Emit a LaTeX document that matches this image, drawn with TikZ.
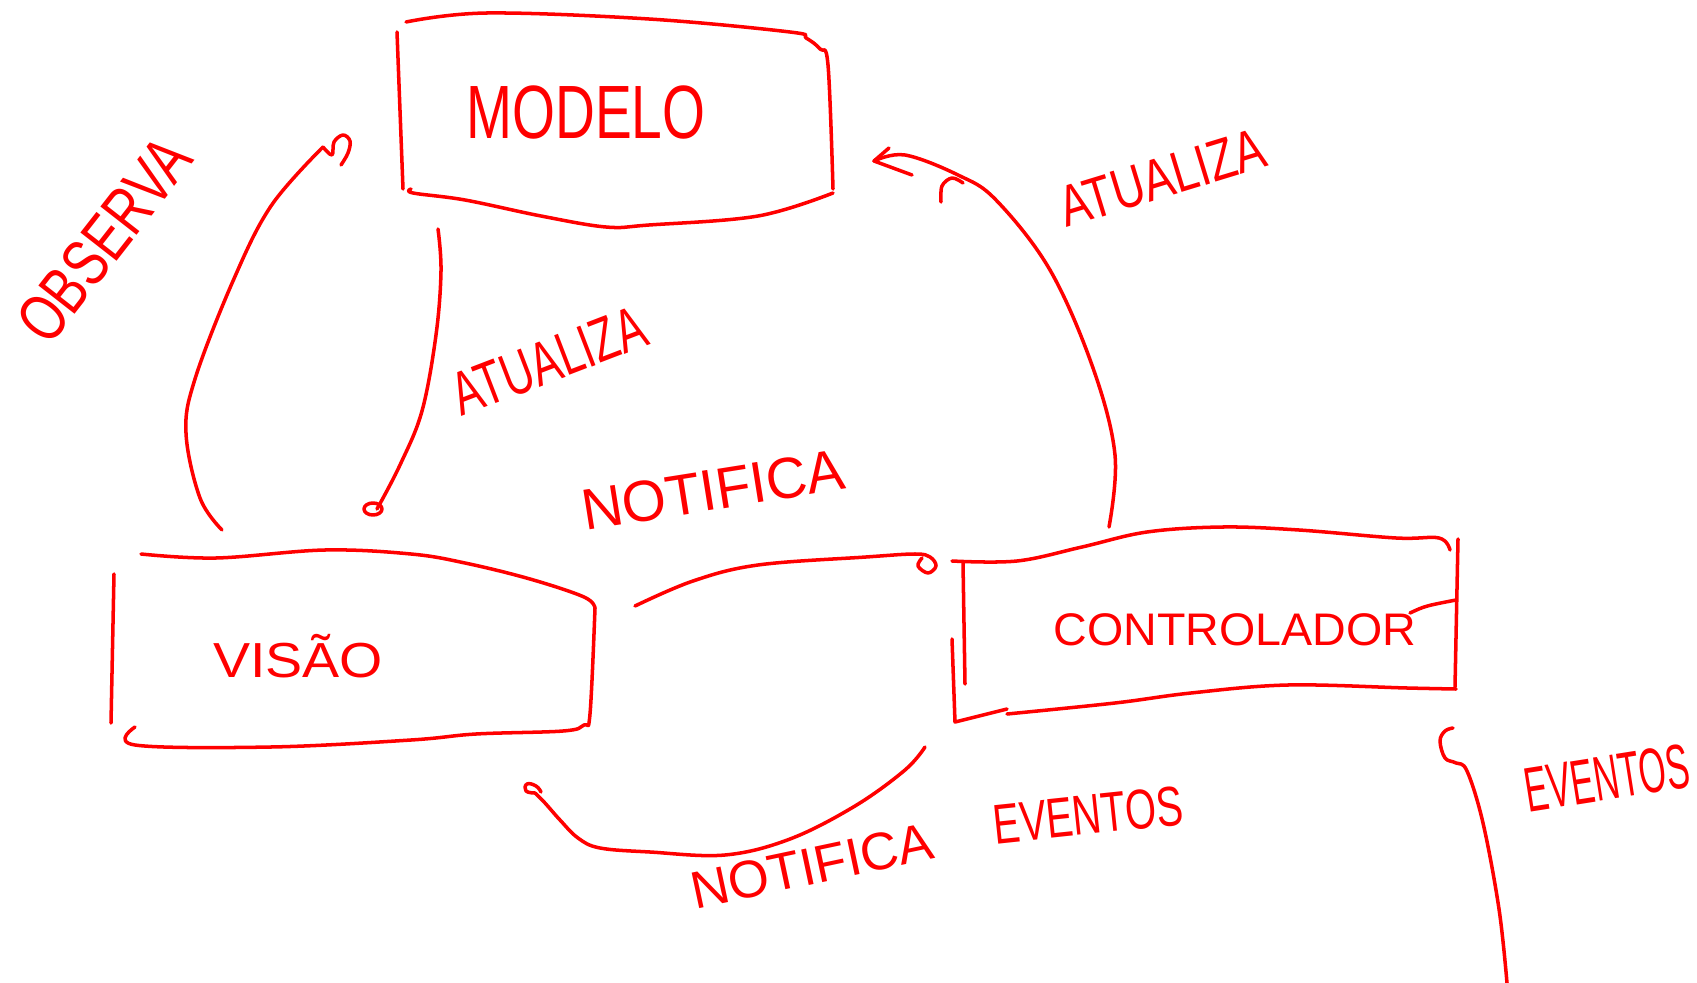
\documentclass[tikz,border=0pt]{standalone}
\usepackage{fontspec}
\usepackage{graphicx}
\setmainfont{Liberation Sans}
\begin{document}
\begin{tikzpicture}[x=0.02cm,y=-0.02cm,
  ink/.style={draw=red, line width=2pt, line cap=round, line join=round},
  lbl/.style={text=red, inner sep=0pt},
  bigfont/.style={font=\fontsize{#1}{#1}\selectfont}]
\useasboundingbox (0,0) rectangle (1697,983);

% ---------- MODELO ----------
\draw[ink] (397,32) -- (403,189);
\draw[ink] plot[smooth, tension=0.6] coordinates {(406,22) (487,13) (649,19) (790,32) (806,38) (820,49) (828,65) (833,189)};
\draw[ink] plot[smooth, tension=0.6] coordinates {(833,193) (758,216) (649,225) (606,227) (541,216) (465,200) (413,193) (411,189)};
\node[lbl, bigfont=43] (modelo) at (586,112) {\scalebox{0.73}[1]{MODELO}};

% ---------- VISAO ----------
\draw[ink] (114,574) -- (111,723);
\draw[ink] plot[smooth, tension=0.6] coordinates {(141,554) (216,558) (325,550) (411,554) (465,563) (530,579) (584,597) (595,608)};
\draw[ink] plot[smooth, tension=0.6] coordinates {(595,608) (590,714) (584,725) (563,731) (476,734) (411,740) (271,747) (135,745) (135,727)};
\node[lbl, bigfont=28, anchor=base] (visao) at (298,677) {\scalebox{1.13}[1]{VISÃO}};

% ---------- CONTROLADOR ----------
\draw[ink] plot[smooth, tension=0.6] coordinates {(952,561) (1017,561) (1082,547) (1147,532) (1223,527) (1299,530) (1396,538) (1439,538) (1450,550)};
\draw[ink] (1458,539) -- (1455,687);
\draw[ink] plot[smooth, tension=0.6] coordinates {(1456,689) (1407,688) (1288,685) (1191,693) (1115,703) (1007,714)};
\draw[ink] (963,563) -- (965,684);
\draw[ink] (952,639) -- (955,722) -- (1007,709);
\node[lbl, bigfont=26, anchor=base] (contr) at (1235,645) {\scalebox{1.02}[1]{CONTROLADOR}};
\draw[ink] (1410,613) .. controls (1425,606) .. (1456,600);

% ---------- OBSERVA (visao -> modelo) ----------
\coordinate (obsS) at (222,530);
\coordinate (obsE) at (323,147);
\draw[ink] plot[smooth, tension=0.6] coordinates {(obsS) (200,498) (186,433) (195,379) (233,281) (271,206) (obsE)};
\draw[ink] plot[smooth, tension=0.6] coordinates {(obsE) (332,155) (334,142) (343,135) (350,141) (348,153) (341,165)};
\node[lbl, bigfont=38, rotate=52] (observa) at (104,240) {\scalebox{0.75}[1]{OBSERVA}};

% ---------- ATUALIZA (modelo -> visao) ----------
\coordinate (atlS) at (438,229);
\coordinate (atlE) at (377,509);
\draw[ink] plot[smooth, tension=0.6] coordinates {(atlS) (441,271) (436,335) (422,411) (400,465) (atlE)};
\draw[ink] (373,509) ellipse [x radius=9, y radius=6];
\node[lbl, bigfont=35, rotate=21] (atualiza1) at (549,361) {\scalebox{0.7}[1]{ATUALIZA}};

% ---------- NOTIFICA (visao -> controlador) ----------
\coordinate (notS) at (635,606);
\coordinate (notE) at (915,554);
\draw[ink] plot[smooth, tension=0.6] coordinates {(notS) (693,581) (758,565) (866,557) (notE) (930,557) (936,566) (928,573) (918,566) (922,558)};
\node[lbl, bigfont=33, rotate=9] (notifica) at (713,490) {\scalebox{0.98}[1]{NOTIFICA}};

% ---------- ATUALIZA (controlador -> modelo) ----------
\coordinate (atrS) at (1109,527);
\coordinate (atrE) at (874,161);
\draw[ink] plot[smooth, tension=0.6] coordinates {(atrS) (1115,455) (1093,368) (1050,270) (996,200) (958,175) (905,155) (atrE)};
\draw[ink] (889,148) -- (atrE) -- (912,175);
\draw[ink] plot[smooth, tension=0.6] coordinates {(941,202) (942,186) (952,178) (963,183)};
\node[lbl, bigfont=33, rotate=17] (atualiza2) at (1162,178) {\scalebox{0.78}[1]{ATUALIZA}};

% ---------- NOTIFICA EVENTOS (controlador -> visao) ----------
\coordinate (neS) at (925,747);
\coordinate (neE) at (535,793);
\draw[ink] plot[smooth, tension=0.6] coordinates {(neS) (905,770) (855,806) (790,839) (725,855) (650,852) (600,848) (578,838) (560,820) (545,803) (neE)};
\draw[ink] plot[smooth, tension=0.8] coordinates {(neE) (526,791) (527,784) (536,786) (541,792)};
\node[lbl, bigfont=30, rotate=12] (notif2) at (812,866) {\scalebox{1.0}[1]{NOTIFICA}};
\node[lbl, bigfont=32, rotate=6] (eventos2) at (1088,815) {\scalebox{0.71}[1]{EVENTOS}};

% ---------- EVENTOS (-> controlador) ----------
\coordinate (evS) at (1507,983);
\coordinate (evE) at (1453,728);
\draw[ink] plot[smooth, tension=0.6] coordinates {(evS) (1499,909) (1483,823) (1467,771) (1456,763) (1445,758) (1440,741) (1445,731) (evE)};
\node[lbl, bigfont=36, rotate=9] (eventos) at (1607,778) {\scalebox{0.55}[1]{EVENTOS}};
\end{tikzpicture}
\end{document}
